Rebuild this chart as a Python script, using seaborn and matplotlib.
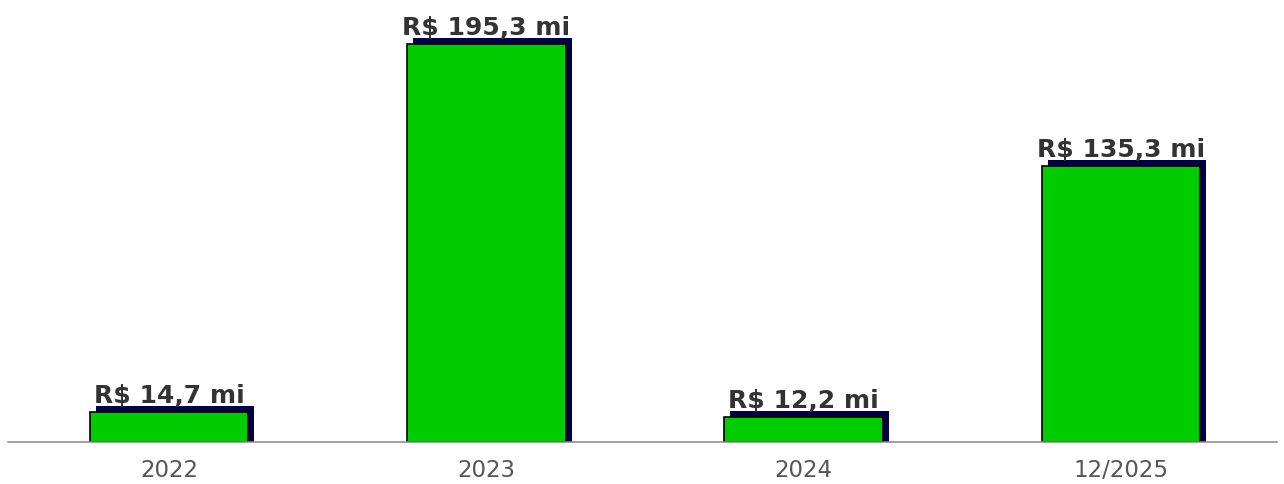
import matplotlib
matplotlib.use('Agg')
import matplotlib.pyplot as plt
import matplotlib.transforms as mtransforms
import seaborn as sns
import pandas as pd

# dados
categorias = ['2022', '2023', '2024', '12/2025']
valores = [14.7, 195.3, 12.2, 135.3]
rotulos = ['R$ 14,7 mi', 'R$ 195,3 mi', 'R$ 12,2 mi', 'R$ 135,3 mi']

df = pd.DataFrame({'Periodo': categorias, 'Valor': valores})

sns.set_style('white')
plt.rcParams['font.family'] = ['DejaVu Sans']

fig = plt.figure(figsize=(12.84, 4.84), dpi=100)
ax = fig.add_axes([8 / 1284, 1 - 442 / 484, 1269 / 1284, 442 / 484])

# sombra (barra deslocada)
sns.barplot(data=df, x='Periodo', y='Valor', color='#000044', saturation=1,
            width=0.5, ax=ax, linewidth=0)
n_sombra = len(ax.patches)
desloc = mtransforms.ScaledTranslation(6 / 100, 6 / 100, fig.dpi_scale_trans)
for p in ax.patches[:n_sombra]:
    # estende a sombra ate a linha de base (cortada pelo eixo)
    p.set_height(p.get_height() + 10)
    p.set_y(-10)
    p.set_transform(ax.transData + desloc)

# barras principais
sns.barplot(data=df, x='Periodo', y='Valor', color='#00CC00', saturation=1,
            width=0.5, ax=ax, edgecolor='black', linewidth=1.2)

for p, txt in zip(ax.patches[n_sombra:], rotulos):
    ax.annotate(txt, (p.get_x() + p.get_width() / 2, p.get_height()),
                xytext=(0, 3), textcoords='offset points',
                ha='center', va='bottom', fontsize=18, fontweight='bold',
                color='#333333')

ax.set_xlim(-0.508, 3.492)
ax.set_ylim(0, 442 / (398 / 195.3))
ax.set_xlabel('')
ax.set_ylabel('')
ax.set_yticks([])
for s in ['top', 'right', 'left']:
    ax.spines[s].set_visible(False)
ax.spines['bottom'].set_color('#888888')
ax.spines['bottom'].set_linewidth(1.1)
ax.spines['bottom'].set_zorder(5)
ax.tick_params(axis='x', length=0, pad=12, labelsize=16.5, labelcolor='#555555')

fig.savefig('out.png', dpi=100)
